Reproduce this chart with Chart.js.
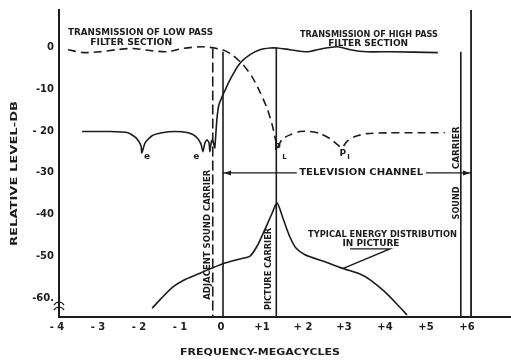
<!DOCTYPE html>
<html>
<head>
<meta charset="utf-8">
<script src="https://cdn.jsdelivr.net/npm/chart.js@4.4.1/dist/chart.umd.min.js"></script>
<style>
html, body { margin: 0; padding: 0; background: #fff; }
</style>
</head>
<body>
<canvas id="chart" width="511" height="360"></canvas>
<script>
// axis ticks
var xTicks = [-4, -3, -2, -1, 0, 1, 2, 3, 4, 5, 6];
var xTickLabels = ['- 4', '- 3', '- 2', '- 1', '0', '+1', '+ 2', '+3', '+4', '+5', '+6'];
var yTicks = [0, -10, -20, -30, -40, -50, -60];
var yTickLabels = ['0', '-10', '- 20', '-30', '-40', '-50', '-60.'];

// transmission of low pass filter section (dashed)
var lowPassMc = [-3.78, -3.41, -3.0, -2.59, -2.2, -1.78, -1.37, -0.98, -0.49, -0.02, 0.22, 0.49, 0.71, 0.9, 1.07, 1.2, 1.29, 1.32,
  1.44, 1.63, 1.88, 2.12, 2.37, 2.61, 2.8, 2.9, 3.02, 3.22, 3.51, 4.07, 4.8, 5.41];
var lowPassDb = [-0.5, -1.2, -1.0, -0.5, -0.2, -0.7, -1.0, -0.2, 0.2, -0.5, -1.7, -4.1, -7.0, -10.6, -14.4, -18.5, -22.5, -24.0,
  -22.0, -20.9, -20.1, -20.1, -20.6, -21.8, -23.3, -24.0, -22.5, -21.3, -20.6, -20.4, -20.4, -20.4];

// transmission of high pass filter section (solid)
var highPassMc = [-3.44, -2.76, -2.32, -2.12, -2.0, -1.98, -1.9, -1.73, -1.49, -1.17, -0.85, -0.66, -0.54, -0.49,
  -0.44, -0.39, -0.34, -0.32, -0.29, -0.26, -0.22, -0.2, -0.15, -0.1, 0.0, 0.17, 0.41, 0.66, 0.9, 1.15, 1.32,
  1.63, 2.05, 2.44, 2.8, 3.1, 3.51, 4.07, 5.24];
var highPassDb = [-20.1, -20.1, -20.4, -21.6, -23.5, -25.2, -22.8, -21.1, -20.4, -20.1, -20.4, -21.3, -23.0, -24.9,
  -22.8, -22.1, -22.8, -24.9, -22.8, -22.1, -23.3, -24.0, -17.3, -13.7, -11.3, -7.7, -3.8, -1.7, -0.5, -0.1, -0.1,
  -0.5, -1.0, -0.2, 0.2, -0.5, -1.0, -1.0, -1.2];

// typical energy distribution in picture
var energyMc = [-1.73, -1.54, -1.22, -0.9, -0.56, -0.02, 0.41, 0.66, 0.85, 1.02, 1.2, 1.32, 1.46, 1.63, 1.78, 2.0,
  2.49, 2.9, 3.34, 3.59, 3.95, 4.24, 4.49];
var energyDb = [-62.4, -60.4, -57.3, -55.4, -54.0, -51.8, -50.6, -49.9, -47.2, -43.6, -39.6, -37.2, -40.8, -45.3, -48.0, -49.6,
  -51.3, -52.8, -54.2, -55.6, -58.5, -61.4, -64.0];

// carriers and channel edges
var lineMc = [-0.25, 0, 1.3, 5.8, 6.05];
var lineTopDb = [-0.2, -1, 0, -1, 9];
var lineDashed = [true, false, false, false, false];

// television channel span
var channelMc = [0, 1.8, 4.95, 6.05];
var channelDb = -30;

// leader for energy label
var leaderMc = [2.92, 4.07, 3.1];
var leaderDb = [-52.9, -48.2, -48.2];

var INK = '#1c1c1c';
var FONT = '"DejaVu Sans"';

function pts(xs, ys) {
  return xs.map(function(x, i) { return { x: x, y: ys[i] }; });
}

var datasets = [
  { data: pts(lowPassMc, lowPassDb), borderDash: [8, 5], borderWidth: 1.6, tension: 0.25 },
  { data: pts(highPassMc, highPassDb), borderWidth: 1.6, tension: 0.2 },
  { data: pts(energyMc, energyDb), borderWidth: 1.6, tension: 0.25 },
  { data: [ { x: channelMc[0], y: channelDb }, { x: channelMc[1], y: channelDb }, { x: 3, y: null },
            { x: channelMc[2], y: channelDb }, { x: channelMc[3], y: channelDb } ], borderWidth: 1.4 },
  { data: [ { x: leaderMc[0], y: leaderDb[0] }, { x: leaderMc[1], y: leaderDb[1] }, { x: leaderMc[2], y: leaderDb[2] } ], borderWidth: 1.4 }
];

lineMc.forEach(function(m, i) {
  datasets.push({
    data: [ { x: m, y: lineTopDb[i] }, { x: m, y: -64.5 } ],
    borderDash: lineDashed[i] ? [10, 4] : [],
    borderWidth: i == 4 ? 1.8 : 1.6
  });
});

datasets.forEach(function(d) {
  d.showLine = true;
  d.pointRadius = 0;
  d.borderColor = INK;
  d.spanGaps = false;
  d.fill = false;
});

function fitText(ctx, s, cx, cy, w, size, rot) {
  ctx.save();
  ctx.translate(cx, cy);
  if (rot) ctx.rotate(rot);
  ctx.font = 'bold ' + size + 'px ' + FONT;
  var m = ctx.measureText(s).width;
  ctx.scale(w / m, 1);
  ctx.textAlign = 'center';
  ctx.textBaseline = 'middle';
  ctx.fillStyle = INK;
  ctx.fillText(s, 0, 0);
  ctx.restore();
}

// [text, mc, db, width px, size px, rotation]
var notes = [
  ['TRANSMISSION OF LOW PASS', -2.01, 3.6, 145, 8.5, 0],
  ['FILTER SECTION', -2.24, 1.1, 82, 8.5, 0],
  ['TRANSMISSION OF HIGH PASS', 3.56, 3.1, 138, 8.5, 0],
  ['FILTER SECTION', 3.54, 1.0, 80, 8.5, 0],
  ['TELEVISION CHANNEL', 3.37, -30, 124, 9.5, 0],
  ['TYPICAL ENERGY DISTRIBUTION', 3.89, -44.8, 149, 8.5, 0],
  ['IN PICTURE', 3.61, -47.0, 57, 8.5, 0],
  ['ADJACENT SOUND CARRIER', -0.37, -44.8, 130, 8.5, -Math.PI / 2],
  ['PICTURE CARRIER', 1.12, -53, 82, 8.5, -Math.PI / 2],
  ['SOUND', 5.71, -37.2, 33, 8.5, -Math.PI / 2],
  ['CARRIER', 5.71, -24, 43, 8.5, -Math.PI / 2]
];

var drawing = {
  id: 'drawing',
  afterDatasetsDraw: function(chart) {
    var ctx = chart.ctx, xs = chart.scales.x, ys = chart.scales.y, a = chart.chartArea;
    ctx.save();
    ctx.fillStyle = INK;
    ctx.font = 'bold 10px ' + FONT;
    ctx.textBaseline = 'middle';
    ctx.textAlign = 'right';
    yTicks.forEach(function(v, i) {
      ctx.fillText(yTickLabels[i], a.left - 5, ys.getPixelForValue(v));
    });
    ctx.textAlign = 'center';
    xTicks.forEach(function(v, i) {
      ctx.fillText(xTickLabels[i], xs.getPixelForValue(v) - 2, a.bottom + 10);
    });

    notes.forEach(function(n) {
      fitText(ctx, n[0], xs.getPixelForValue(n[1]), ys.getPixelForValue(n[2]), n[3], n[4], n[5]);
    });

    // axis titles
    fitText(ctx, 'RELATIVE LEVEL-DB', 15, (a.top + a.bottom) / 2 + 10, 145, 9.5, -Math.PI / 2);
    fitText(ctx, 'FREQUENCY-MEGACYCLES', 260, 353, 160, 9.5, 0);

    // attenuation peak marks
    ctx.font = 'bold 9px ' + FONT;
    ctx.fillText('e', xs.getPixelForValue(-1.85), ys.getPixelForValue(-26));
    ctx.fillText('e', xs.getPixelForValue(-0.65), ys.getPixelForValue(-26));
    ctx.fillText('P', xs.getPixelForValue(1.33), ys.getPixelForValue(-24));
    ctx.fillText('P', xs.getPixelForValue(2.92), ys.getPixelForValue(-25.5));
    ctx.font = 'bold 7px ' + FONT;
    ctx.fillText('L', xs.getPixelForValue(1.5), ys.getPixelForValue(-26.2));
    ctx.fillText('I', xs.getPixelForValue(3.06), ys.getPixelForValue(-26.2));

    // arrow heads of the channel span
    var cy = ys.getPixelForValue(channelDb);
    var l = xs.getPixelForValue(channelMc[0]) + 1, r = xs.getPixelForValue(channelMc[3]) - 1;
    ctx.beginPath();
    ctx.moveTo(l, cy); ctx.lineTo(l + 7, cy - 2.5); ctx.lineTo(l + 7, cy + 2.5); ctx.closePath();
    ctx.moveTo(r, cy); ctx.lineTo(r - 7, cy - 2.5); ctx.lineTo(r - 7, cy + 2.5); ctx.closePath();
    ctx.fill();

    // axis break
    ctx.strokeStyle = INK;
    ctx.lineWidth = 1.3;
    [303, 308].forEach(function(y) {
      ctx.beginPath();
      ctx.moveTo(a.left - 5, y + 2);
      ctx.quadraticCurveTo(a.left - 2, y - 2, a.left, y);
      ctx.quadraticCurveTo(a.left + 2, y - 2, a.left + 5, y + 2);
      ctx.stroke();
    });
    ctx.restore();
  }
};

var chart = new Chart(document.getElementById('chart').getContext('2d'), {
  type: 'scatter',
  data: { datasets: datasets },
  options: {
    responsive: false,
    animation: false,
    layout: { padding: { left: 59, right: 1, top: 10, bottom: 43 } },
    plugins: { legend: { display: false }, tooltip: { enabled: false } },
    scales: {
      x: {
        type: 'linear', min: -4, max: 7,
        grid: { display: false, drawTicks: false, tickLength: 0 },
        ticks: { display: false },
        border: { display: true, color: INK, width: 2 }
      },
      y: {
        type: 'linear', min: -64.5, max: 9,
        grid: { display: false, drawTicks: false, tickLength: 0 },
        ticks: { display: false },
        border: { display: true, color: INK, width: 2 }
      }
    }
  },
  plugins: [drawing]
});
</script>
</body>
</html>
